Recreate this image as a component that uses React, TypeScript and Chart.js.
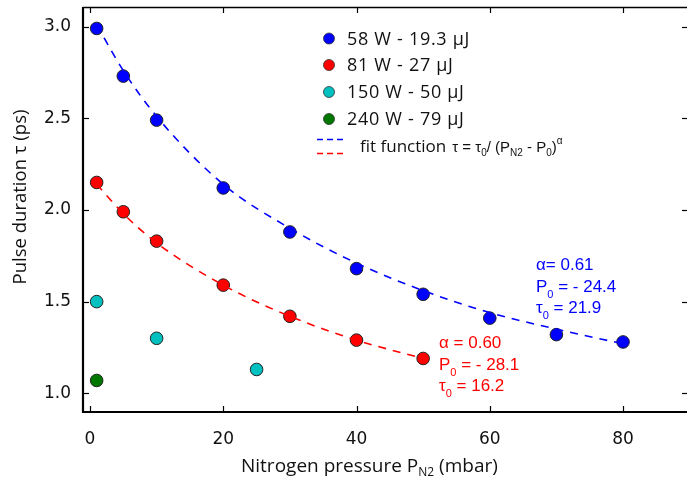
import React, { useEffect, useRef } from "react";
import { Chart, registerables } from "chart.js";
Chart.register(...registerables);

// ---- data ----
const blueX = [1, 5, 10, 20, 30, 40, 50, 60, 70, 80];
const blueY = [2.99, 2.73, 2.49, 2.12, 1.88, 1.68, 1.54, 1.41, 1.32, 1.28];
const redX = [1, 5, 10, 20, 30, 40, 50];
const redY = [2.15, 1.99, 1.83, 1.59, 1.42, 1.29, 1.19];
const cyanX = [1, 10, 25];
const cyanY = [1.5, 1.3, 1.13];
const greenX = [1];
const greenY = [1.07];

// dashed fit curves
const blueFitX = [1, 5, 10, 20, 30, 40, 50, 60, 70, 80];
const blueFitY = [3.01, 2.76, 2.51, 2.14, 1.9, 1.71, 1.56, 1.44, 1.35, 1.27];
const redFitX = [1, 5, 10, 20, 30, 40, 50];
const redFitY = [2.14, 1.98, 1.82, 1.59, 1.42, 1.29, 1.19];

const xTicks = [0, 20, 40, 60, 80];
const yTicks = [1.0, 1.5, 2.0, 2.5, 3.0];

const seriesLabels = ["58 W - 19.3 µJ", "81 W - 27 µJ", "150 W - 50 µJ", "240 W - 79 µJ"];
const seriesColors = ["#0000ff", "#ff0000", "#00c0c0", "#007800"];

const blueFitParams = ["0.61", "- 24.4", "21.9"];
const redFitParams = ["0.60", "- 28.1", "16.2"];

const zip = (xs: number[], ys: number[]) => xs.map((x, i) => ({ x, y: ys[i] }));

type Part = { t: string; font: string; dy?: number };
function drawRich(ctx: CanvasRenderingContext2D, x: number, y: number, parts: Part[]) {
  let cx = x;
  for (const p of parts) {
    ctx.font = p.font;
    ctx.fillText(p.t, cx, y + (p.dy || 0));
    cx += ctx.measureText(p.t).width;
  }
  return cx;
}

const overlay = {
  id: "overlay",
  afterDraw(chart: any) {
    const ctx: CanvasRenderingContext2D = chart.ctx;
    const { left, right, top, bottom } = chart.chartArea;
    const xs = chart.scales.x;
    const ys = chart.scales.y;
    ctx.save();
    ctx.strokeStyle = "#000";
    const line = (x1: number, y1: number, x2: number, y2: number, w: number) => {
      ctx.lineWidth = w;
      ctx.beginPath();
      ctx.moveTo(x1, y1);
      ctx.lineTo(x2, y2);
      ctx.stroke();
    };
    // frame
    line(left, top + 0.5, right, top + 0.5, 1.5);
    line(left, top, left, bottom + 1, 2.2);
    line(left - 1, bottom, right, bottom, 2.2);
    // inward ticks
    xs.ticks.forEach((t: any) => {
      const px = Math.round(xs.getPixelForValue(t.value)) + 0.5;
      line(px, bottom, px, bottom - 6, 1.2);
      line(px, top, px, top + 6, 1.2);
    });
    ys.ticks.forEach((t: any) => {
      const py = Math.round(ys.getPixelForValue(t.value)) + 0.5;
      line(left, py, left + 6, py, 1.2);
      line(right, py, right - 5, py, 1.2);
    });

    // axis titles
    ctx.fillStyle = "#111";
    ctx.textBaseline = "alphabetic";
    ctx.textAlign = "left";
    drawRich(ctx, 241, 472, [
      { t: "Nitrogen pressure P", font: "19px 'Open Sans'" },
      { t: "N2", font: "12px 'Open Sans'", dy: 4 },
      { t: " (mbar)", font: "19px 'Open Sans'" },
    ]);
    ctx.save();
    ctx.translate(26, 197);
    ctx.rotate(-Math.PI / 2);
    ctx.font = "18.5px 'Open Sans'";
    ctx.textAlign = "center";
    ctx.fillText("Pulse duration τ (ps)", 0, 0);
    ctx.restore();

    // legend
    const rows = [38.5, 65, 92, 119];
    rows.forEach((ry, i) => {
      ctx.beginPath();
      ctx.arc(329, ry, 5.5, 0, Math.PI * 2);
      ctx.fillStyle = seriesColors[i];
      ctx.fill();
      ctx.lineWidth = 0.8;
      ctx.strokeStyle = "#333";
      ctx.stroke();
      ctx.fillStyle = "#111";
      ctx.font = "18px 'Open Sans'";
      ctx.textBaseline = "middle";
      (ctx as any).letterSpacing = "0.7px";
      ctx.fillText(seriesLabels[i], 347, ry + 1);
      (ctx as any).letterSpacing = "0px";
    });
    ctx.setLineDash([6, 4]);
    ctx.lineWidth = 1.5;
    ctx.strokeStyle = seriesColors[0];
    ctx.beginPath();
    ctx.moveTo(317, 139.5);
    ctx.lineTo(345, 139.5);
    ctx.stroke();
    ctx.strokeStyle = seriesColors[1];
    ctx.beginPath();
    ctx.moveTo(317, 153.5);
    ctx.lineTo(345, 153.5);
    ctx.stroke();
    ctx.setLineDash([]);
    ctx.fillStyle = "#111";
    ctx.textBaseline = "alphabetic";
    const ef = "15px 'Liberation Sans'";
    const esf = "10px 'Liberation Sans'";
    const ex = drawRich(ctx, 360, 152, [{ t: "fit function", font: "17px 'Open Sans'" }]);
    drawRich(ctx, ex + 6, 152, [
      { t: "τ = τ", font: ef },
      { t: "0", font: esf, dy: 4 },
      { t: "/ (P", font: ef },
      { t: "N2", font: esf, dy: 4 },
      { t: " - P", font: ef },
      { t: "0", font: esf, dy: 4 },
      { t: ")", font: ef },
      { t: "α", font: esf, dy: -8 },
    ]);

    // fit annotations
    const af = "17px 'Liberation Sans'";
    const asf = "11px 'Liberation Sans'";
    const ann = (x: number, y: number, color: string, p: string[], tight: boolean) => {
      ctx.fillStyle = color;
      drawRich(ctx, x, y, [{ t: (tight ? "α= " : "α = ") + p[0], font: af }]);
      drawRich(ctx, x, y + 21.5, [
        { t: "P", font: af },
        { t: "0", font: asf, dy: 6 },
        { t: " = " + p[1], font: af },
      ]);
      drawRich(ctx, x, y + 43, [
        { t: "τ", font: af },
        { t: "0", font: asf, dy: 6 },
        { t: " = " + p[2], font: af },
      ]);
    };
    ann(536, 270, seriesColors[0], blueFitParams, true);
    ann(439, 348, seriesColors[1], redFitParams, false);
    ctx.restore();
  },
};

export default function App() {
  const ref = useRef<HTMLCanvasElement>(null);
  useEffect(() => {
    if (!ref.current) return;
    const pt = (color: string) => ({
      showLine: false,
      backgroundColor: color,
      borderColor: "#222",
      borderWidth: 1,
      pointRadius: 6.3,
      pointBorderWidth: 1,
    });
    const fit = (color: string) => ({
      showLine: true,
      pointRadius: 0,
      borderColor: color,
      borderWidth: 1.6,
      borderDash: [8, 7],
      cubicInterpolationMode: "monotone" as const,
      fill: false,
    });
    const chart = new Chart(ref.current, {
      type: "scatter",
      data: {
        datasets: [
          { data: zip(blueFitX, blueFitY), ...fit(seriesColors[0]) },
          { data: zip(redFitX, redFitY), ...fit(seriesColors[1]) },
          { data: zip(blueX, blueY), ...pt(seriesColors[0]) },
          { data: zip(redX, redY), ...pt(seriesColors[1]) },
          { data: zip(cyanX, cyanY), ...pt(seriesColors[2]) },
          { data: zip(greenX, greenY), ...pt(seriesColors[3]) },
        ] as any,
      },
      options: {
        animation: false,
        responsive: false,
        layout: { autoPadding: false, padding: { top: 7, right: 0, left: 0, bottom: 0 } },
        plugins: { legend: { display: false }, tooltip: { enabled: false } },
        scales: {
          x: {
            type: "linear",
            min: -1.05,
            max: 89.6,
            afterBuildTicks: (s: any) => {
              s.ticks = xTicks.map((v) => ({ value: v }));
            },
            afterFit: (s: any) => {
              s.height = 68;
              s.paddingLeft = 0;
              s.paddingRight = 0;
            },
            grid: { display: false, drawTicks: false },
            border: { display: false },
            ticks: {
              padding: 17,
              color: "#111",
              font: { family: "'DejaVu Sans'", size: 17 },
              maxRotation: 0,
              callback: (v: any) => String(v),
            },
          },
          y: {
            type: "linear",
            min: 0.898,
            max: 3.107,
            afterBuildTicks: (s: any) => {
              s.ticks = yTicks.map((v) => ({ value: v }));
            },
            afterFit: (s: any) => {
              s.width = 83;
              s.paddingTop = 0;
              s.paddingBottom = 0;
            },
            grid: { display: false, drawTicks: false },
            border: { display: false },
            ticks: {
              padding: 12,
              color: "#111",
              font: { family: "'DejaVu Sans'", size: 17 },
              callback: (v: any) => Number(v).toFixed(1),
            },
          },
        },
      },
      plugins: [overlay],
    });
    return () => chart.destroy();
  }, []);
  return (
    <div style={{ position: "fixed", left: 0, top: 0, width: 687, height: 480, background: "#fff" }}>
      <canvas ref={ref} width={687} height={480} style={{ width: 687, height: 480, display: "block" }} />
    </div>
  );
}
